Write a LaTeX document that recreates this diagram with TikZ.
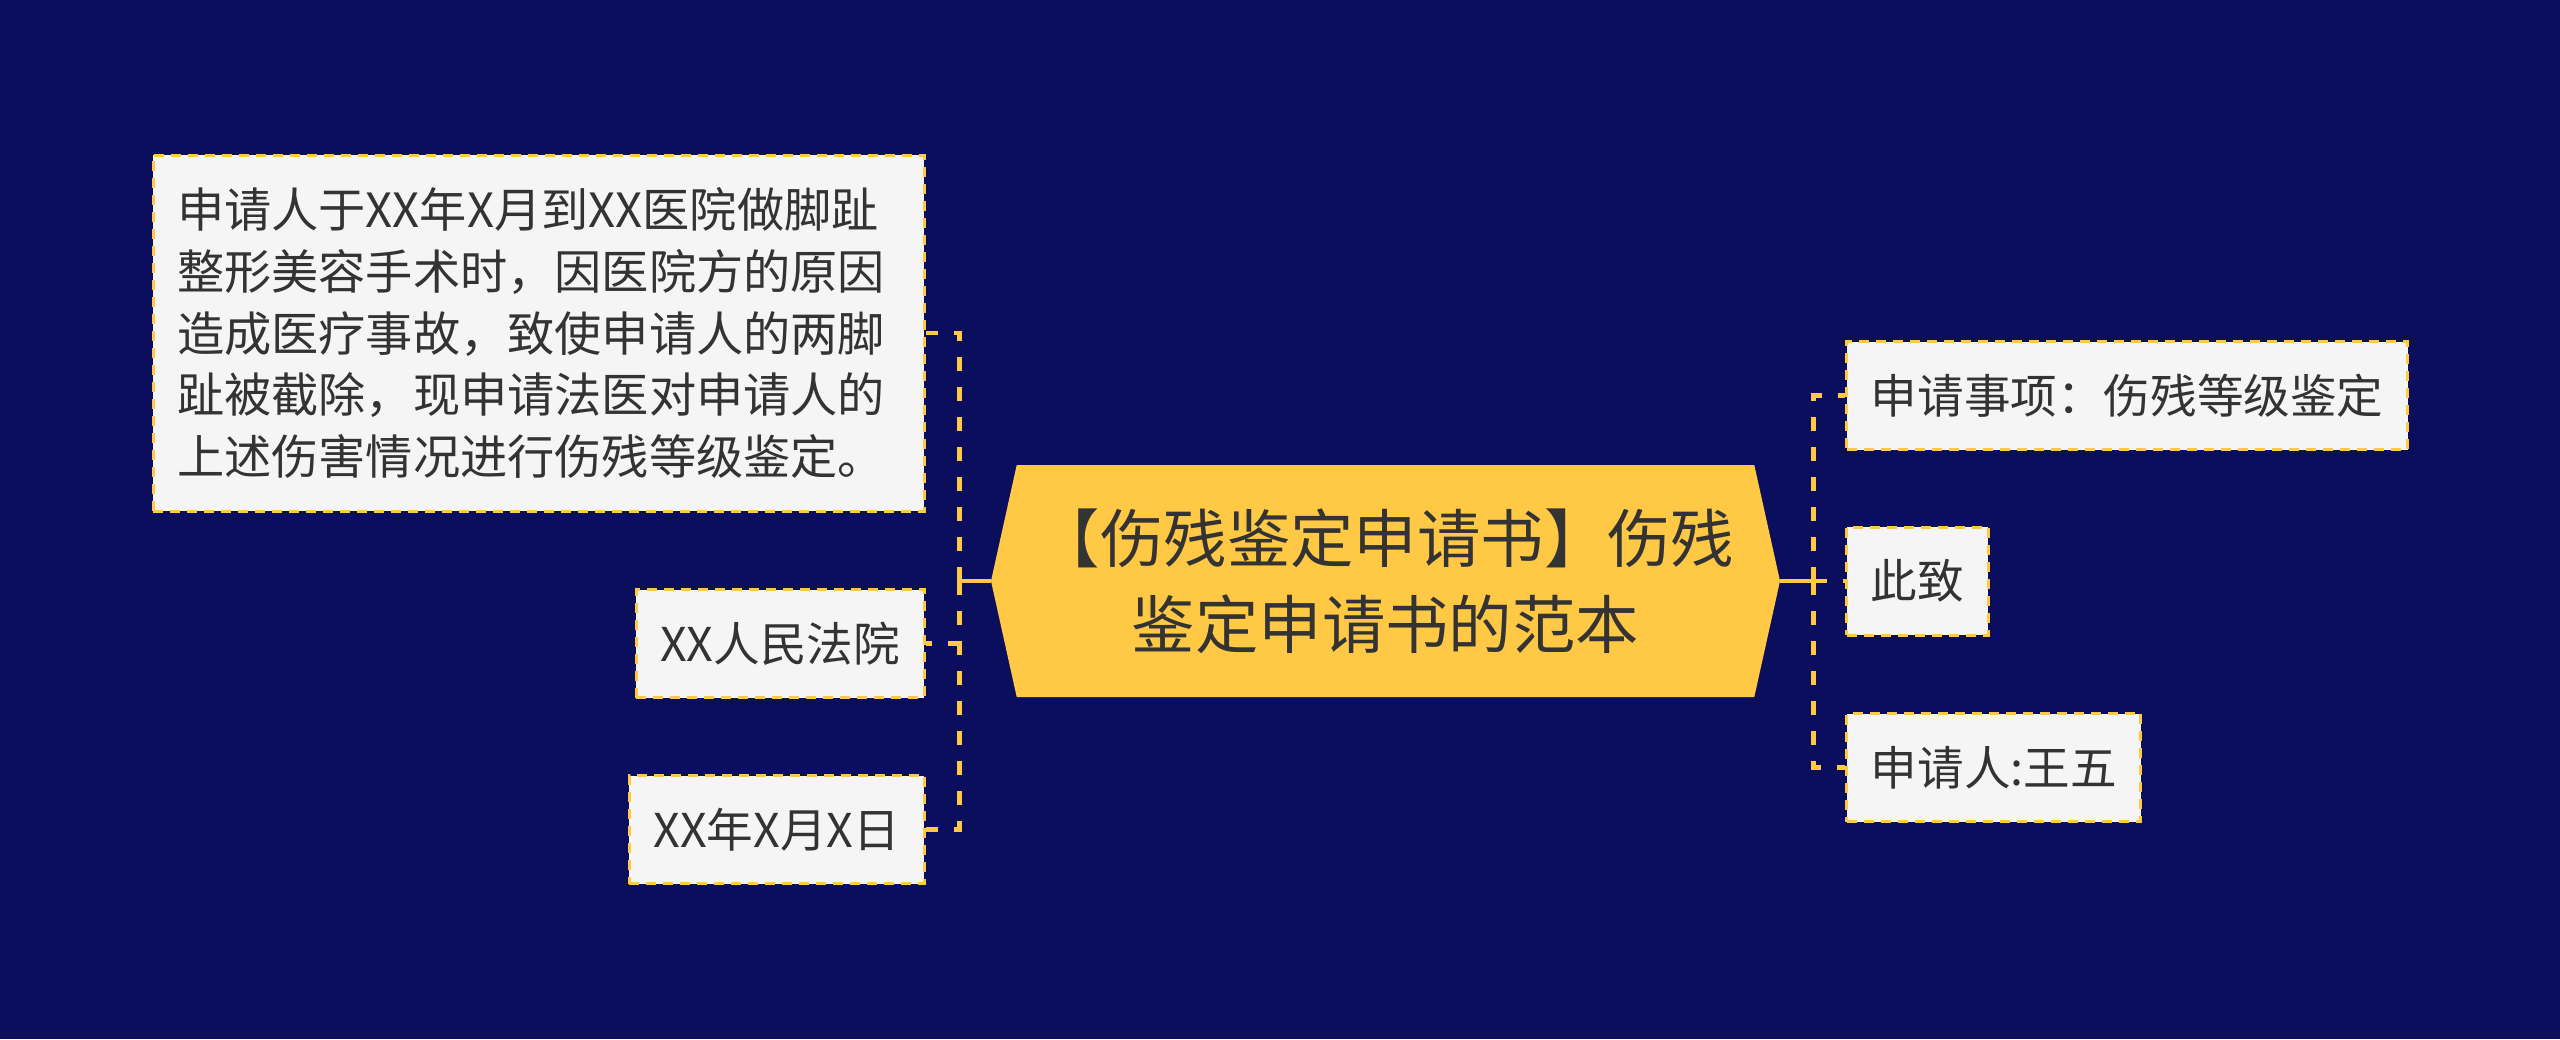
\documentclass[tikz,border=0pt]{standalone}
\usepackage{fontspec}
\newfontfamily\cjk{Noto Sans CJK SC}
\usetikzlibrary{positioning}
\usetikzlibrary{shapes.symbols}
\definecolor{navy}{HTML}{0B0E5C}
\definecolor{gold}{HTML}{FFC845}
\definecolor{paper}{HTML}{F5F5F5}
\definecolor{ink}{HTML}{333333}

\begin{document}
\begin{tikzpicture}[x=0.5pt, y=0.5pt]
    \tikzset{hub/.style = {shape=signal, signal to=west and east, signal pointer angle=155, fill=gold, text=ink,
                           align=center, minimum width=394.5pt, minimum height=116pt,
                           font=\cjk\fontsize{31.7pt}{43pt}\selectfont},
             leaf/.style = {draw=gold, fill=paper, line width=1.5pt, dash pattern=on 5pt off 3.5pt, text=ink,
                            inner xsep=12pt, minimum height=54pt, font=\cjk\fontsize{23.3pt}{30.8pt}\selectfont},
             stem/.style = {draw=gold, line width=2.2pt},
             branch/.style = {stem, dash pattern=on 7pt off 8pt}
            }
    \fill[navy] (0,0) rectangle (2560,-1039);
    \node (hub) [hub] at (1385.5,-581) {【伤残鉴定申请书】伤残\\鉴定申请书的范本};
    \node (injury) [leaf, text width=361.5pt, align=left, minimum height=178pt, left=32.5pt of hub.west, yshift=124pt]
        {\fontsize{23.6pt}{30.8pt}\selectfont 申请人于XX年X月到XX医院做脚趾\\整形美容手术时，因医院方的原因\\造成医疗事故，致使申请人的两脚\\趾被截除，现申请法医对申请人的\\上述伤害情况进行伤残等级鉴定。};
    \node (court) [leaf, left=32.5pt of hub.west, yshift=-31.25pt] {XX人民法院};
    \node (date) [leaf, left=32.5pt of hub.west, yshift=-124.25pt] {XX年X月X日};
    \node (matter) [leaf, right=32.5pt of hub.east, yshift=92.75pt] {申请事项：伤残等级鉴定};
    \node (salute) [leaf, right=32.5pt of hub.east] {此致};
    \node (applicant) [leaf, right=32.5pt of hub.east, yshift=-93.25pt] {申请人:王五};
    \coordinate [left=15.5pt of hub.west] (ltrunk);
    \coordinate [right=16.5pt of hub.east] (rtrunk);
    \path[draw, stem] (hub.west) -- (ltrunk);
    \path[draw, stem] (hub.east) -- (rtrunk);
    \path[draw, branch] (ltrunk) |- (injury.east);
    \path[draw, branch] (ltrunk) |- (court.east);
    \path[draw, branch] (ltrunk) |- (date.east);
    \path[draw, branch] (rtrunk) |- (matter.west);
    \path[draw, branch] (rtrunk) |- (salute.west);
    \path[draw, branch] (rtrunk) |- (applicant.west);
\end{tikzpicture}
\end{document}
